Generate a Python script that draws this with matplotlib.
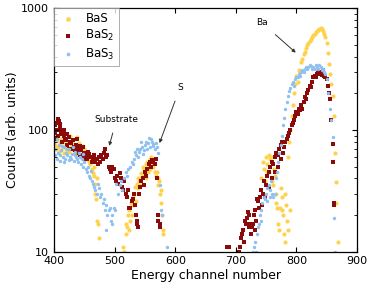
import matplotlib
matplotlib.use('Agg')
import matplotlib.pyplot as plt
from matplotlib.ticker import LogLocator, NullFormatter, FixedLocator

# BaS (yellow)
bas_ch = [401, 402, 403, 404, 406, 407, 408, 410, 411, 412, 414, 415, 416, 418, 419, 420, 422,
          423, 424, 426, 427, 428, 430, 431, 432, 434, 436, 437, 438, 440, 441, 442, 444, 446, 447,
          448, 450, 452, 453, 455, 457, 458, 460, 461, 462, 464, 465, 466, 467, 468, 469, 470, 471,
          472, 474, 514, 515, 516, 518, 519, 520, 522, 523, 524, 526, 527, 528, 530, 531, 532, 534,
          535, 536, 538, 539, 540, 542, 543, 544, 546, 547, 548, 550, 551, 552, 554, 555, 556, 558,
          559, 560, 562, 563, 564, 566, 567, 568, 570, 571, 572, 573, 574, 576, 577, 578, 579, 580,
          742, 745, 747, 748, 750, 751, 752, 754, 755, 756, 758, 759, 760, 762, 763, 764, 766, 767,
          768, 770, 772, 773, 774, 776, 777, 778, 780, 781, 782, 783, 784, 786, 787, 788, 789, 790,
          792, 794, 796, 798, 800, 802, 804, 806, 808, 810, 812, 814, 816, 818, 820, 822, 824, 826,
          828, 830, 832, 834, 836, 838, 840, 842, 844, 846, 848, 850, 852, 854, 856, 858, 860, 862,
          864, 865, 866, 868]
bas_cnt = [75, 88, 70, 82, 72, 90, 66, 78, 85, 68, 80, 72, 65, 84, 70, 74, 68,
           80, 66, 90, 72, 76, 80, 70, 68, 64, 75, 88, 70, 64, 78, 73, 60, 68, 74,
           62, 70, 58, 66, 65, 55, 60, 52, 58, 48, 44, 50, 42, 36, 30, 27, 40, 18,
           17, 13, 11, 10, 10, 14, 17, 16, 20, 15, 22, 18, 25, 20, 28, 24, 30, 34,
           26, 36, 33, 40, 38, 40, 35, 44, 42, 50, 48, 46, 40, 52, 55, 45, 50, 58,
           48, 60, 55, 50, 52, 58, 45, 42, 45, 35, 40, 38, 30, 25, 32, 20, 15, 14,
           40, 55, 48, 38, 60, 45, 52, 45, 62, 58, 60, 40, 38, 35, 48, 42, 25, 30,
           23, 17, 15, 23, 33, 28, 22, 20, 14, 30, 12, 24, 18, 60, 15, 80, 22, 100,
           130, 160, 200, 240, 280, 250, 310, 300, 360, 380, 420, 440, 470, 500, 520, 540, 560, 580,
           600, 620, 640, 650, 660, 680, 690, 670, 650, 620, 580, 520, 430, 350, 290, 240, 190, 130,
           65, 37, 25, 12]

# BaS2 (dark red)
bas2_ch = [401, 402, 403, 404, 405, 406, 407, 408, 409, 410, 411, 412, 413, 414, 416, 417, 418,
           420, 421, 422, 424, 425, 426, 428, 430, 431, 432, 434, 436, 437, 438, 440, 442, 443, 444,
           446, 448, 450, 451, 452, 455, 456, 458, 460, 462, 464, 466, 468, 470, 472, 474, 476, 478,
           480, 482, 484, 486, 488, 490, 492, 494, 496, 498, 500, 502, 504, 506, 508, 510, 512, 514,
           516, 518, 520, 522, 524, 526, 528, 530, 532, 534, 535, 536, 537, 538, 540, 542, 544, 546,
           548, 550, 552, 554, 556, 558, 560, 562, 564, 566, 568, 570, 571, 572, 574, 575, 685, 688,
           705, 707, 708, 710, 712, 713, 715, 717, 718, 720, 721, 722, 724, 725, 726, 728, 730, 731,
           732, 734, 735, 737, 738, 740, 742, 744, 745, 747, 749, 750, 752, 754, 755, 757, 759, 760,
           762, 764, 765, 767, 769, 770, 772, 774, 775, 777, 778, 780, 782, 784, 786, 788, 790, 792,
           794, 796, 798, 800, 802, 804, 806, 808, 810, 812, 814, 816, 818, 820, 822, 824, 826, 828,
           830, 832, 834, 836, 838, 840, 842, 844, 846, 848, 850, 852, 854, 856, 858, 860, 861, 862,
           863]
bas2_cnt = [95, 110, 85, 115, 100, 122, 90, 118, 105, 112, 92, 100, 80, 95, 90, 100, 85,
            82, 92, 75, 88, 70, 80, 78, 70, 82, 72, 68, 75, 85, 65, 70, 62, 74, 68,
            60, 72, 65, 58, 62, 58, 66, 64, 60, 55, 58, 62, 55, 58, 52, 60, 55, 62,
            58, 65, 70, 60, 62, 50, 48, 45, 50, 48, 40, 38, 42, 36, 44, 40, 34, 32,
            38, 30, 28, 32, 23, 23, 26, 27, 30, 24, 20, 18, 17, 16, 30, 34, 38, 40,
            35, 45, 42, 48, 52, 55, 50, 57, 54, 52, 58, 40, 20, 18, 17, 16, 11, 11,
            10, 11, 13, 14, 15, 12, 18, 17, 19, 21, 16, 20, 17, 14, 16, 17, 20, 15,
            22, 18, 27, 26, 23, 28, 32, 24, 30, 38, 28, 35, 42, 34, 45, 50, 40, 55,
            52, 45, 60, 65, 50, 62, 70, 58, 75, 80, 65, 72, 80, 85, 90, 95, 100, 110,
            115, 120, 130, 140, 135, 150, 145, 160, 150, 170, 185, 180, 200, 215, 230, 225, 250, 270,
            280, 275, 290, 295, 300, 290, 285, 310, 280, 270, 260, 230, 200, 180, 120, 77, 55, 25,
            24]

# BaS3 (light blue)
bas3_ch = [400, 401, 402, 404, 405, 406, 408, 409, 410, 412, 413, 414, 416, 417, 418, 420, 421,
           422, 424, 425, 426, 428, 430, 431, 432, 434, 435, 436, 438, 440, 441, 442, 444, 446, 447,
           448, 450, 452, 454, 456, 458, 460, 461, 462, 464, 466, 468, 470, 472, 474, 476, 478, 480,
           482, 484, 485, 486, 488, 490, 492, 494, 495, 496, 498, 500, 502, 505, 508, 510, 512, 515,
           518, 520, 522, 525, 528, 530, 532, 533, 535, 537, 538, 540, 542, 543, 545, 547, 548, 550,
           552, 553, 555, 557, 558, 560, 562, 563, 564, 566, 568, 570, 572, 574, 576, 578, 586, 728,
           730, 732, 733, 735, 736, 738, 740, 741, 742, 744, 746, 748, 750, 751, 752, 754, 756, 757,
           758, 760, 762, 764, 766, 768, 770, 772, 774, 776, 778, 780, 782, 784, 786, 788, 790, 792,
           794, 796, 798, 800, 802, 804, 806, 808, 810, 812, 814, 816, 818, 820, 822, 824, 826, 828,
           830, 832, 834, 836, 838, 840, 842, 844, 846, 848, 850, 852, 855, 858, 860, 862, 864]
bas3_cnt = [80, 62, 70, 58, 85, 65, 75, 56, 62, 68, 74, 60, 72, 55, 58, 65, 70,
            62, 70, 57, 60, 58, 64, 72, 56, 62, 66, 60, 58, 55, 65, 60, 52, 58, 63,
            50, 55, 48, 45, 50, 42, 40, 46, 38, 36, 34, 32, 30, 36, 33, 28, 30, 25,
            27, 22, 15, 24, 20, 22, 23, 18, 17, 20, 23, 22, 36, 30, 35, 38, 32, 40,
            45, 42, 48, 50, 55, 52, 58, 66, 62, 70, 60, 66, 70, 80, 72, 64, 68, 75,
            80, 70, 78, 86, 72, 85, 80, 76, 74, 70, 78, 72, 65, 35, 22, 20, 11, 10,
            11, 12, 10, 14, 16, 17, 20, 18, 22, 25, 28, 27, 30, 26, 33, 35, 32, 28,
            38, 30, 28, 30, 40, 45, 55, 65, 75, 90, 110, 125, 150, 170, 190, 210, 220, 240,
            250, 230, 260, 270, 275, 290, 280, 300, 310, 300, 320, 330, 320, 330, 340, 335, 320, 330,
            320, 340, 330, 320, 340, 330, 310, 320, 300, 290, 260, 200, 150, 120, 87, 19, 10]

yellow = '#FFD24D'
darkred = '#8B0A0A'
lightblue = '#8EC0F0'

fig = plt.figure(figsize=(3.71, 2.97), dpi=100)
ax = fig.add_axes([0.146, 0.153, 0.816, 0.819])

ax.scatter(bas_ch, bas_cnt, s=9, marker='o', color=yellow, linewidths=0, label='BaS')
ax.scatter(bas2_ch, bas2_cnt, s=9, marker='s', color=darkred, linewidths=0, label='BaS$_2$')
ax.scatter(bas3_ch, bas3_cnt, s=6, marker='o', color=lightblue, linewidths=0, label='BaS$_3$')

ax.set_yscale('log')
ax.set_xlim(400, 900)
ax.set_ylim(10, 1000)
ax.xaxis.set_major_locator(FixedLocator([400, 500, 600, 700, 800, 900]))
ax.yaxis.set_major_locator(FixedLocator([10, 100, 1000]))
ax.set_yticklabels(['10', '100', '1000'])
ax.yaxis.set_minor_locator(LogLocator(base=10, subs=range(2, 10)))
ax.yaxis.set_minor_formatter(NullFormatter())
ax.tick_params(which='both', direction='in', top=True, right=True, labelsize=8)
ax.tick_params(which='major', length=3.5)
ax.tick_params(which='minor', length=2)
for sp in ax.spines.values():
    sp.set_linewidth(0.9)

ax.set_xlabel('Energy channel number', fontsize=9, labelpad=2)
ax.set_ylabel('Counts (arb. units)', fontsize=9, labelpad=2)

# annotations
arrow = dict(arrowstyle='-|>', color='#333333', lw=0.7, mutation_scale=5, shrinkA=5, shrinkB=0)
ax.annotate('Substrate', xy=(491, 74), xytext=(503, 123), fontsize=6.5,
            ha='center', va='center', arrowprops=arrow)
ax.annotate('S', xy=(574, 78), xytext=(608, 224), fontsize=6.5,
            ha='center', va='center', arrowprops=arrow)
ax.annotate('Ba', xy=(799, 432), xytext=(743, 762), fontsize=6.5,
            ha='center', va='center', arrowprops=arrow)

leg = ax.legend(loc='upper left', fontsize=8.5, frameon=True, fancybox=False,
                borderaxespad=0, handletextpad=0.7, borderpad=0.35, labelspacing=0.25,
                markerscale=1.1, handlelength=1.6)
leg.get_frame().set_edgecolor('#999999')
leg.get_frame().set_linewidth(0.7)

fig.savefig('out.png', dpi=100)
